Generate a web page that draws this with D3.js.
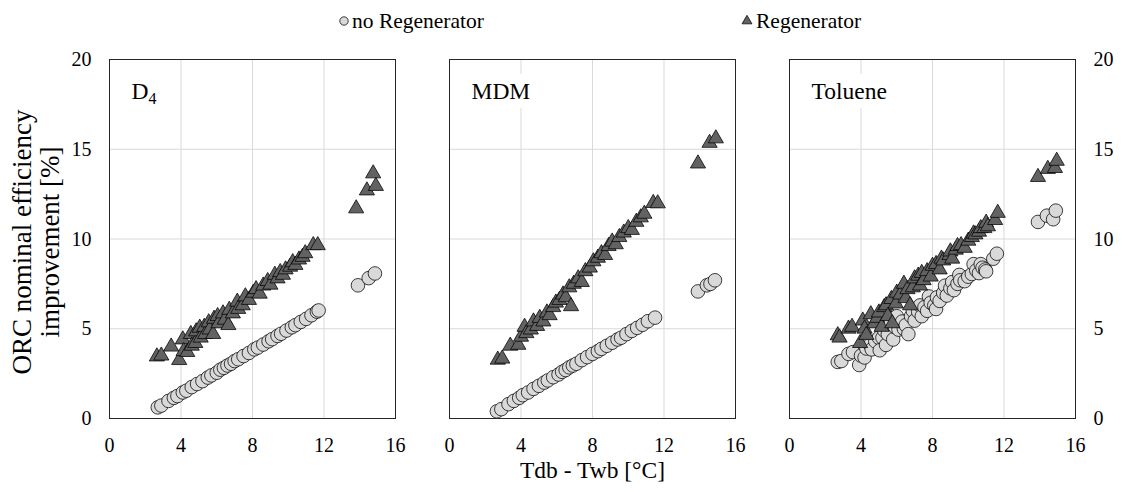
<!DOCTYPE html>
<html>
<head>
<meta charset="utf-8">
<script src="https://cdn.jsdelivr.net/npm/d3@7"></script>
<style>
  html, body { margin: 0; padding: 0; background: #fff; }
  svg { display: block; font-family: "Liberation Serif", "Times New Roman", serif; }
</style>
</head>
<body>
<svg id="chart" width="1122" height="492"></svg>
<script>
// ---------- data ----------
const panelNames = ["D4", "MDM", "Toluene"];
const xTicks = [0, 4, 8, 12, 16];
const yTicks = [0, 5, 10, 15, 20];
const seriesNames = ["no Regenerator", "Regenerator"];

const d4NoRegen = [[2.7,0.62],[2.9,0.72],[3.3,0.98],[3.6,1.15],[3.8,1.25],[4.1,1.45],[4.3,1.55],[4.6,1.75],[4.9,1.92],[5.2,2.08],[5.5,2.28],[5.7,2.40],[6.0,2.55],[6.2,2.72],[6.4,2.82],[6.6,2.95],[6.8,3.05],[7.0,3.20],[7.2,3.30],[7.5,3.48],[7.8,3.65],[8.1,3.85],[8.3,3.95],[8.6,4.12],[8.9,4.30],[9.1,4.42],[9.4,4.60],[9.6,4.72],[9.9,4.90],[10.2,5.08],[10.4,5.20],[10.7,5.38],[11.0,5.55],[11.3,5.75],[11.6,5.95],[11.7,6.02],[13.9,7.42],[14.5,7.82],[14.85,8.08]];
const d4Regen = [[2.65,3.45],[2.9,3.5],[3.45,4.0],[3.9,3.25],[4.1,4.4],[4.15,3.75],[4.35,3.7],[4.55,4.7],[4.6,4.05],[4.8,4.2],[4.85,4.85],[5.05,5.05],[5.1,4.5],[5.3,5.1],[5.35,4.7],[5.55,5.35],[5.6,4.95],[5.8,4.7],[5.85,5.55],[6.05,5.7],[6.1,5.3],[6.35,5.85],[6.45,5.5],[6.65,5.2],[6.7,6.05],[6.9,5.85],[7.15,6.5],[7.2,6.1],[7.45,6.3],[7.6,6.8],[7.8,6.6],[8.05,7.0],[8.2,7.2],[8.4,6.95],[8.6,7.4],[8.85,7.65],[9.0,7.45],[9.25,8.0],[9.4,7.8],[9.55,8.15],[9.7,8.0],[9.85,8.3],[10.1,8.45],[10.25,8.7],[10.4,8.55],[10.6,8.85],[10.8,9.0],[10.95,9.2],[11.4,9.65],[11.65,9.65],[13.8,11.7],[14.4,12.7],[14.75,13.65],[14.9,12.95]];

const mdmNoRegen = [[2.65,0.4],[2.9,0.52],[3.3,0.8],[3.6,0.98],[3.9,1.15],[4.1,1.3],[4.4,1.45],[4.7,1.65],[5.0,1.82],[5.3,2.0],[5.5,2.12],[5.8,2.3],[6.1,2.45],[6.3,2.6],[6.5,2.7],[6.7,2.85],[6.9,2.95],[7.1,3.05],[7.4,3.25],[7.7,3.42],[8.0,3.6],[8.3,3.75],[8.5,3.88],[8.8,4.05],[9.1,4.22],[9.4,4.4],[9.6,4.5],[9.9,4.7],[10.2,4.88],[10.5,5.05],[10.8,5.22],[11.1,5.42],[11.5,5.62],[13.9,7.08],[14.4,7.42],[14.6,7.5],[14.85,7.7]];
const mdmRegen = [[2.7,3.27],[2.95,3.33],[3.4,4.05],[3.85,4.1],[4.0,4.55],[4.2,5.1],[4.3,4.75],[4.55,4.95],[4.7,5.4],[4.9,5.15],[5.05,5.6],[5.25,5.4],[5.45,5.9],[5.6,5.75],[5.8,6.2],[5.95,6.45],[6.15,6.6],[6.35,6.9],[6.5,6.75],[6.8,6.25],[6.7,7.3],[6.95,7.5],[7.2,7.8],[7.4,7.6],[7.6,8.2],[7.85,8.4],[8.05,8.75],[8.3,8.95],[8.5,9.2],[8.7,9.1],[8.9,9.6],[9.1,9.85],[9.3,9.7],[9.5,10.1],[9.75,10.35],[10.0,10.6],[10.2,10.5],[10.45,10.95],[10.7,11.2],[10.9,11.4],[11.4,12.0],[11.65,11.98],[13.9,14.2],[14.55,15.35],[14.9,15.6]];

const tolNoRegen = [[2.7,3.15],[2.9,3.2],[3.3,3.6],[3.55,3.7],[3.9,2.98],[4.0,3.5],[4.2,3.4],[4.3,3.9],[4.5,4.1],[4.6,3.85],[4.8,4.3],[5.0,4.5],[5.05,3.8],[5.2,4.5],[5.3,4.9],[5.4,4.1],[5.5,4.7],[5.6,5.3],[5.8,4.4],[5.9,5.1],[6.0,5.7],[6.1,4.95],[6.3,5.4],[6.4,5.0],[6.5,5.2],[6.65,4.7],[6.8,5.7],[6.9,6.0],[7.0,5.45],[7.2,5.95],[7.3,6.3],[7.4,5.7],[7.55,6.2],[7.7,6.0],[7.8,6.8],[7.9,6.45],[8.1,6.3],[8.2,6.1],[8.25,6.75],[8.4,6.55],[8.6,7.0],[8.7,7.4],[8.8,6.85],[9.0,7.25],[9.1,7.6],[9.2,7.15],[9.4,7.5],[9.5,8.0],[9.55,7.7],[9.8,7.65],[10.0,7.9],[10.2,8.05],[10.3,8.6],[10.45,8.25],[10.6,8.1],[10.7,8.6],[10.8,8.4],[10.95,8.3],[11.0,8.2],[11.4,8.9],[11.6,9.18],[13.9,10.95],[14.4,11.3],[14.75,11.1],[14.9,11.58]];
const tolRegen = [[2.7,4.63],[2.8,4.5],[3.3,5.0],[3.5,5.1],[3.95,4.2],[4.1,5.45],[4.2,5.0],[4.3,4.65],[4.55,5.8],[4.75,5.3],[4.9,5.6],[5.0,5.9],[5.15,5.1],[5.3,6.2],[5.4,6.3],[5.5,5.7],[5.7,6.65],[5.75,5.3],[5.95,6.4],[6.0,7.0],[6.2,6.9],[6.4,7.5],[6.5,6.7],[6.6,7.2],[6.75,6.3],[6.9,7.3],[7.0,7.8],[7.2,7.95],[7.3,7.4],[7.4,8.1],[7.5,7.7],[7.7,8.2],[7.9,7.9],[8.0,8.5],[8.2,8.6],[8.4,8.3],[8.5,8.9],[8.6,8.8],[8.95,9.1],[9.0,9.3],[9.1,8.9],[9.3,9.4],[9.4,9.6],[9.6,9.65],[9.8,9.5],[10.0,9.9],[10.2,10.1],[10.3,10.3],[10.4,10.25],[10.6,10.4],[10.7,10.6],[10.9,10.6],[11.0,10.9],[11.1,10.7],[11.5,11.05],[11.65,11.45],[13.9,13.45],[14.45,13.9],[14.85,13.95],[14.95,14.35]];

const panelData = [
  { name: panelNames[0], noRegen: d4NoRegen, regen: d4Regen },
  { name: panelNames[1], noRegen: mdmNoRegen, regen: mdmRegen },
  { name: panelNames[2], noRegen: tolNoRegen, regen: tolRegen }
];

// ---------- layout ----------
const svg = d3.select("#chart");
const panelLefts = [109.5, 449.5, 789.5];
const panelW = 286;
const plotTop = 59.5, plotBottom = 418.5;
const gridColor = "#d9d9d9";
const circleFill = "#d9d9d9";
const triFill = "#626262";
const fontSize = 20;

const triangle = d3.symbol().type(d3.symbolTriangle).size(100);

panelData.forEach((p, i) => {
  const left = panelLefts[i];
  const x = d3.scaleLinear().domain([0, 16]).range([left, left + panelW]);
  const y = d3.scaleLinear().domain([0, 20]).range([plotBottom, plotTop]);
  const g = svg.append("g");

  // gridlines
  g.append("g").selectAll("line").data(xTicks.slice(1, -1)).join("line")
    .attr("x1", d => x(d)).attr("x2", d => x(d)).attr("y1", plotTop).attr("y2", plotBottom)
    .attr("stroke", gridColor).attr("stroke-width", 1);
  g.append("g").selectAll("line").data(yTicks.slice(1, -1)).join("line")
    .attr("x1", left).attr("x2", left + panelW).attr("y1", d => y(d)).attr("y2", d => y(d))
    .attr("stroke", gridColor).attr("stroke-width", 1);

  // panel label with white box
  const lblG = g.append("g");
  const lbl = lblG.append("text").attr("x", left + 22).attr("y", 99)
    .attr("font-size", 23.5).attr("fill", "#000");
  if (p.name === "D4") {
    lbl.append("tspan").text("D");
    lbl.append("tspan").attr("font-size", 16).attr("dy", 5).text("4");
  } else {
    lbl.text(p.name);
  }
  const bb = lbl.node().getBBox();
  lblG.insert("rect", "text").attr("x", bb.x - 6).attr("y", bb.y - 4)
    .attr("width", bb.width + 12).attr("height", bb.height + 8).attr("fill", "#fff");

  // points
  g.append("g").selectAll("circle").data(p.noRegen).join("circle")
    .attr("cx", d => x(d[0])).attr("cy", d => y(d[1])).attr("r", 6.8)
    .attr("fill", circleFill).attr("stroke", "#000").attr("stroke-width", 0.75);
  g.append("g").selectAll("path").data(p.regen).join("path")
    .attr("transform", d => `translate(${x(d[0])},${y(d[1])})`)
    .attr("d", triangle)
    .attr("fill", triFill).attr("stroke", "#000").attr("stroke-width", 0.75);

  // border
  g.append("rect").attr("x", left).attr("y", plotTop).attr("width", panelW).attr("height", plotBottom - plotTop)
    .attr("fill", "none").attr("stroke", "#262626").attr("stroke-width", 1);

  // x tick labels
  g.append("g").selectAll("text").data(xTicks).join("text")
    .attr("x", d => x(d)).attr("y", 452).attr("text-anchor", "middle")
    .attr("font-size", fontSize).attr("fill", "#000").text(d => d);

  // y tick labels
  if (i === 0) {
    g.append("g").selectAll("text").data(yTicks).join("text")
      .attr("x", left - 18).attr("y", d => y(d)).attr("dy", "0.33em").attr("text-anchor", "end")
      .attr("font-size", fontSize).attr("fill", "#000").text(d => d);
  }
  if (i === 2) {
    g.append("g").selectAll("text").data(yTicks).join("text")
      .attr("x", left + panelW + 18).attr("y", d => y(d)).attr("dy", "0.33em").attr("text-anchor", "start")
      .attr("font-size", fontSize).attr("fill", "#000").text(d => d);
  }
});

// axis titles
svg.append("text").attr("x", 592.5).attr("y", 478).attr("text-anchor", "middle")
  .attr("font-size", 23.5).attr("fill", "#000").text("Tdb - Twb [°C]");
const yt = svg.append("text").attr("transform", "translate(0,242) rotate(-90)")
  .attr("text-anchor", "middle").attr("font-size", 27).attr("fill", "#000");
yt.append("tspan").attr("x", 0).attr("y", 31).text("ORC nominal efficiency");
yt.append("tspan").attr("x", 0).attr("y", 59).text("improvement [%]");

// legend
const leg = svg.append("g");
leg.append("circle").attr("cx", 344).attr("cy", 21).attr("r", 4.2)
  .attr("fill", circleFill).attr("stroke", "#000").attr("stroke-width", 0.75);
leg.append("text").attr("x", 352).attr("y", 28).attr("font-size", 21.5).text(seriesNames[0]);
leg.append("path").attr("transform", "translate(747,21)")
  .attr("d", d3.symbol().type(d3.symbolTriangle).size(42))
  .attr("fill", triFill).attr("stroke", "#000").attr("stroke-width", 0.75);
leg.append("text").attr("x", 756).attr("y", 28).attr("font-size", 21.5).text(seriesNames[1]);
</script>
</body>
</html>
